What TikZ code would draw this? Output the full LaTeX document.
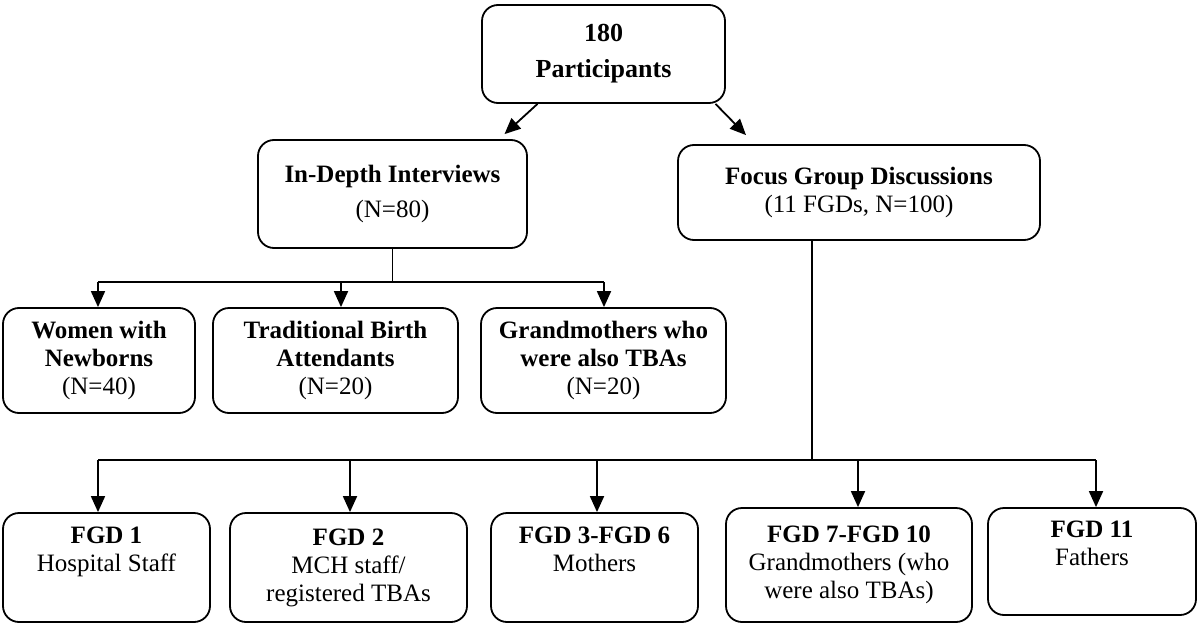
\documentclass[tikz,border=0pt]{standalone}
\usepackage{fontspec}
\setmainfont{Liberation Serif}
\usetikzlibrary{arrows.meta,calc}
\begin{document}
\begin{tikzpicture}[x=1pt,y=-1pt,
  box/.style={draw,line width=1.8pt,rounded corners=16pt,align=center,
    inner sep=0pt,font=\fontsize{25}{28}\selectfont},
  conn/.style={line width=1.8pt},
  arr/.style={line width=1.8pt,-{Triangle[length=16pt,width=14pt]}}]
\useasboundingbox (0,0) rectangle (1200,629);
% boxes
\node[box,minimum width=243pt,minimum height=98pt,font=\fontsize{26}{28}\selectfont] (top) at (603.5,54)
  {\textbf{180}\\[8pt]\textbf{Participants}};
\node[box,minimum width=269pt,minimum height=108pt] (idi) at (392.5,194)
  {\textbf{In-Depth Interviews}\\[7pt](N=80)};
\node[box,minimum width=362pt,minimum height=95pt] (fgd) at (859,192.5)
  {\textbf{Focus Group Discussions}\\(11 FGDs, N=100)};
\node[box,minimum width=192pt,minimum height=105pt] (women) at (99,360.5)
  {\textbf{Women with}\\\textbf{Newborns}\\(N=40)};
\node[box,minimum width=245pt,minimum height=105pt] (tba) at (335.5,360.5)
  {\textbf{Traditional Birth}\\\textbf{Attendants}\\(N=20)};
\node[box,minimum width=245pt,minimum height=105pt] (gm) at (603.5,360.5)
  {\textbf{Grandmothers who}\\\textbf{were also TBAs}\\(N=20)};
\node[box,minimum width=207pt,minimum height=109pt] (f1) at (106.5,567.5)
  {\textbf{FGD 1}\\Hospital Staff\\\strut};
\node[box,minimum width=237pt,minimum height=109pt] (f2) at (348.5,567.5)
  {\textbf{FGD 2}\\MCH staff/\\registered TBAs};
\node[box,minimum width=207pt,minimum height=109pt] (f3) at (594.5,567.5)
  {\textbf{FGD 3-FGD 6}\\Mothers\\\strut};
\node[box,minimum width=246pt,minimum height=114pt] (f7) at (849,565)
  {\textbf{FGD 7-FGD 10}\\Grandmothers (who\\were also TBAs)};
\node[box,minimum width=208pt,minimum height=107pt] (f11) at (1092,561.5)
  {\textbf{FGD 11}\\Fathers\\\strut};
% top arrows
\draw[arr] ($(top.south)+(-66,0)$) -- ($(idi.north)+(112,-5)$);
\draw[arr] ($(top.south)+(112,0)$) -- ($(fgd.north)+(-113,-9)$);
% IDI branches
\coordinate (ij) at (idi.south |- 0,282);
\coordinate (ia) at (98,282);
\coordinate (ib) at (341,282);
\coordinate (ic) at (604,282);
\draw[conn] (idi.south) -- (ij);
\draw[conn] (ia) -- (ic);
\draw[arr] (ia) -- (ia |- women.north);
\draw[arr] (ib) -- (ib |- tba.north);
\draw[arr] (ic) -- (ic |- gm.north);
% FGD branches
\coordinate (fs) at (812,240);
\coordinate (fj) at (812,460);
\coordinate (ba1) at (98,460);
\coordinate (ba2) at (350,460);
\coordinate (ba3) at (597,460);
\coordinate (ba7) at (858,460);
\coordinate (ba11) at (1096,460);
\draw[conn] (fs |- fgd.south) -- (fj);
\draw[conn] (ba1) -- (ba11);
\draw[arr] (ba1) -- (ba1 |- f1.north);
\draw[arr] (ba2) -- (ba2 |- f2.north);
\draw[arr] (ba3) -- (ba3 |- f3.north);
\draw[arr] (ba7) -- (ba7 |- f7.north);
\draw[arr] (ba11) -- (ba11 |- f11.north);
\end{tikzpicture}
\end{document}
